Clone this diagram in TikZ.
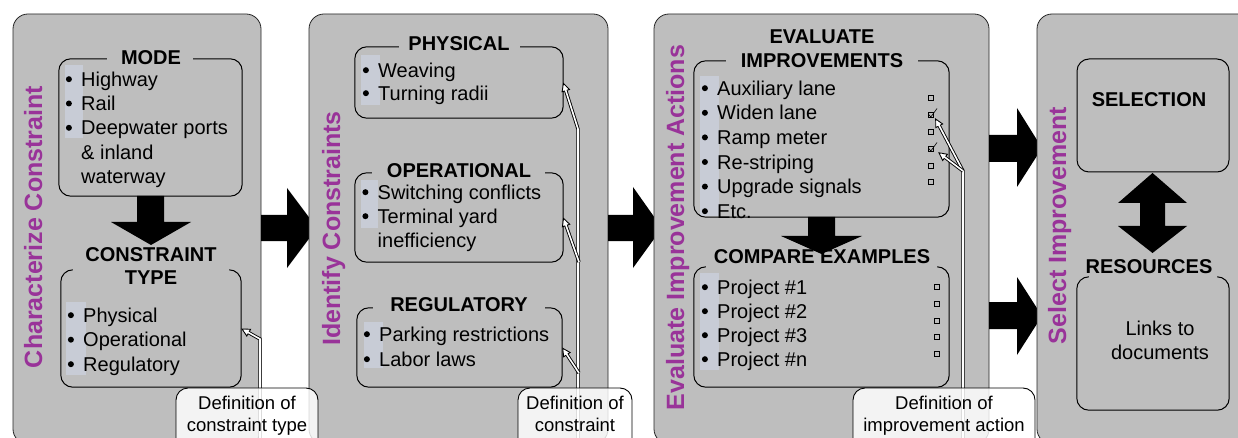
\documentclass[tikz,border=0pt]{standalone}
\usepackage{fontspec}
\setmainfont{Liberation Sans}
\usetikzlibrary{arrows.meta,calc}

\definecolor{panelgray}{RGB}{190,190,190}
\definecolor{titlepurple}{RGB}{153,51,153}
\definecolor{stripblue}{RGB}{200,204,214}

% bullet dot and hanging indent for list lines
\newcommand\bitem{\makebox[14.5pt][l]{\hspace*{-0.8pt}\tikz[baseline=0pt]\fill (0pt,7.2pt) circle[radius=3pt];}}
\newcommand\bcont{\hspace*{14.5pt}}

% hollow callout arrow: #1 path up to the last bend, #2 last bend, #3 tip
\newcommand\hollowarrow[3]{%
  \draw[hstem] #1 -- #3;
  \draw[htip] ($#3!9pt!#2$) -- #3;
  \draw[hface] #1 -- #3;}

% box outline whose top edge is open between the two offsets
\newcommand\gapframe[3]{%
  \draw[boxline] ([xshift=#2]#1.north west) -- (#1.north west) -- (#1.south west)
    -- (#1.south east) -- (#1.north east) -- ([xshift=-#3]#1.north east);}

\begin{document}
\begin{tikzpicture}[x=1pt,y=-1pt,
  panel/.style={rectangle, draw=black!85, line width=0.8pt, fill=panelgray,
    rounded corners=15pt, inner sep=0pt},
  vtitle/.style={rotate=90, font=\bfseries\fontsize{25}{30}\selectfont,
    text=titlepurple, text height=18pt, text depth=5pt, inner sep=0pt},
  frame/.style={rectangle, inner sep=0pt},
  boxline/.style={draw=black, line width=1pt, rounded corners=12pt},
  btitle/.style={font=\bfseries\fontsize{20}{24}\selectfont, inner sep=0pt, align=center},
  blist/.style={font=\fontsize{20}{#1}\selectfont, inner sep=0pt, align=left, anchor=north west},
  blist/.default=24.3,
  plain/.style={font=\fontsize{20}{24}\selectfont, inner sep=0pt, align=center, anchor=north},
  strip/.style={fill=stripblue, draw=none},
  blockarrow/.style={fill=black, draw=none},
  chk/.style={draw=black, line width=0.9pt, rectangle, minimum size=5.5pt, inner sep=0pt},
  tick/.style={draw=black, line width=0.6pt},
  callout/.style={rectangle, draw=black, line width=0.9pt, fill=white, fill opacity=0.82,
    rounded corners=12pt, inner sep=0pt},
  calltext/.style={font=\fontsize{18.5}{22}\selectfont, inner sep=0pt, align=center, anchor=north},
  hstem/.style={draw=black, line width=3.4pt, shorten >=6pt},
  hface/.style={draw=white, line width=1.6pt, shorten >=3.5pt},
  htip/.style={draw=black, line width=0.9pt, -{Triangle[length=9pt,width=9pt,fill=white]}},
]
\useasboundingbox (0,0) rectangle (1238,438);
\clip (0,0) rectangle (1238,438);

%% ---------- Characterize Constraint ----------
\node[panel, minimum width=248pt, minimum height=430pt] (p1) at (137,229) {};
\node[vtitle] (t1) at (35.5,227) {Characterize Constraint};

\fill[strip] (65,65) rectangle (83,138);
\fill[strip] (66,302) rectangle (86,375);

\node[frame, minimum width=183pt, minimum height=137pt] (mode) at (150.5,127.5) {};
\node[blist] (modelist) at (66.5,71.7)
  {\bitem Highway\\ \bitem Rail\\ \bitem Deepwater ports\\ \bcont\& inland\\ \bcont waterway};
\gapframe{mode}{48pt}{49pt}
\node[btitle] (modet) at (151,58) {MODE};

\fill[blockarrow] (137,196) -- (164,196) -- (164,222) -- (191,222) -- (151,245)
  -- (111,222) -- (137,222) -- cycle;

\node[frame, minimum width=180pt, minimum height=117pt] (ctype) at (151,328.5) {};
\node[blist=24.5] (ctypelist) at (68.5,307.7)
  {\bitem Physical\\ \bitem Operational\\ \bitem Regulatory};
\gapframe{ctype}{12pt}{12pt}
\node[btitle, font=\bfseries\fontsize{20}{23}\selectfont] (ctypet) at (151,266.5) {CONSTRAINT\\TYPE};

\fill[blockarrow] (261,215) -- (287,215) -- (287,188) -- (317,228) -- (287,268)
  -- (287,241) -- (261,241) -- cycle;

%% ---------- Identify Constraints ----------
\node[panel, minimum width=299pt, minimum height=430pt] (p2) at (458.5,229) {};
\node[vtitle] (t2) at (333.5,228.5) {Identify Constraints};

\fill[strip] (361,55) rectangle (380,105);
\fill[strip] (361,180) rectangle (378,228);
\fill[strip] (364,322) rectangle (383,368);

\node[frame, minimum width=208pt, minimum height=71pt] (phys) at (459,82.5) {};
\node[blist=23] (physlist) at (363.5,62.7) {\bitem Weaving\\ \bitem Turning radii};
\gapframe{phys}{44pt}{43pt}
\node[btitle] (physt) at (459,44) {PHYSICAL};

\node[frame, minimum width=208pt, minimum height=89pt] (oper) at (459,217.5) {};
\node[blist=24] (operlist) at (363,184.7)
  {\bitem Switching conflicts\\ \bitem Terminal yard\\ \bcont inefficiency};
\gapframe{oper}{17pt}{18pt}
\node[btitle] (opert) at (459,171) {OPERATIONAL};

\node[frame, minimum width=205pt, minimum height=79pt] (regu) at (459.5,347.5) {};
\node[blist=25] (regulist) at (364.5,326.7) {\bitem Parking restrictions\\ \bitem Labor laws};
\gapframe{regu}{16pt}{17pt}
\node[btitle] (regut) at (459,305) {REGULATORY};

\fill[blockarrow] (608,215) -- (633,215) -- (633,187) -- (662,228) -- (633,268)
  -- (633,241) -- (608,241) -- cycle;

%% ---------- Evaluate Improvement Actions ----------
\node[panel, minimum width=335pt, minimum height=430pt] (p3) at (821.5,229) {};
\node[vtitle] (t3) at (677.5,227.5) {Evaluate Improvement Actions};

\fill[strip] (700,76) rectangle (719,216);
\fill[strip] (700,273) rectangle (719,370);

\node[frame, minimum width=255pt, minimum height=156pt] (evalb) at (821.5,139) {};
\node[blist=24.6] (evallist) at (702.5,80.7)
  {\bitem Auxiliary lane\\ \bitem Widen lane\\ \bitem Ramp meter\\ \bitem Re-striping\\
   \bitem Upgrade signals\\ \bitem Etc.};
\gapframe{evalb}{32pt}{31pt}
\node[btitle] (evalt) at (822,49) {EVALUATE\\IMPROVEMENTS};

\node[chk] (e1) at (931,98) {};
\node[chk] (e2) at (931,115) {};
\node[chk] (e3) at (931,132) {};
\node[chk] (e4) at (931,149) {};
\node[chk] (e5) at (931,166) {};
\node[chk] (e6) at (931,182) {};
\draw[tick] (928.8,114.5) -- (930.8,117) -- (937,108.5);
\draw[tick] (928.8,148.5) -- (930.8,151) -- (937,142.5);

\fill[blockarrow] (808,217) -- (835,217) -- (835,236) -- (862,236) -- (821.5,254)
  -- (781,236) -- (808,236) -- cycle;

\node[frame, minimum width=255pt, minimum height=120pt] (comp) at (821.5,327) {};
\node[blist=24] (complist) at (702.5,279.7)
  {\bitem Project \#1\\ \bitem Project \#2\\ \bitem Project \#3\\ \bitem Project \#n};
\gapframe{comp}{12pt}{12pt}
\node[btitle] (compt) at (822,257) {COMPARE EXAMPLES};

\node[chk] (k1) at (937,287) {};
\node[chk] (k2) at (937,304) {};
\node[chk] (k3) at (937,321) {};
\node[chk] (k4) at (937,337) {};
\node[chk] (k5) at (937,354) {};

\fill[blockarrow] (989,135) -- (1017,135) -- (1017,108) -- (1042,148) -- (1017,187)
  -- (1017,162) -- (989,162) -- cycle;
\fill[blockarrow] (989,302) -- (1017,302) -- (1017,277) -- (1042,316) -- (1017,355)
  -- (1017,329) -- (989,329) -- cycle;

%% ---------- Select Improvement ----------
\node[panel, minimum width=223pt, minimum height=430pt] (p4) at (1148.5,229) {};
\node[vtitle] (t4) at (1059.5,225.5) {Select Improvement};

\node[frame, draw=black, line width=1pt, rounded corners=12pt,
  minimum width=152pt, minimum height=113pt] (sel) at (1153,115.5) {};
\node[btitle] (selt) at (1149,100) {SELECTION};

\fill[blockarrow] (1152.5,173) -- (1187,203) -- (1165,203) -- (1165,226) -- (1187,226)
  -- (1152.5,253) -- (1118,226) -- (1140,226) -- (1140,203) -- (1118,203) -- cycle;

\node[frame, minimum width=152pt, minimum height=133pt] (res) at (1153,343.5) {};
\gapframe{res}{12pt}{12pt}
\node[btitle] (rest) at (1149,267) {RESOURCES};
\node[plain] (links) at (1160,320.7) {Links to\\documents};

%% ---------- callout arrows ----------
\coordinate (s1) at (260,445);
\coordinate (b1) at (260,339);
\hollowarrow{(s1) -- (b1)}{(b1)}{(ctype.east)}

\coordinate (s2) at (578,445);
\coordinate (b2) at (578,129);
\coordinate (s2a) at (579,262);
\coordinate (s2b) at (579,373);
\hollowarrow{(s2) -- (b2)}{(b2)}{(phys.east)}
\hollowarrow{(s2a)}{(s2a)}{(oper.east)}
\hollowarrow{(s2b)}{(s2b)}{(regu.east)}

\coordinate (s3) at (963,445);
\coordinate (b3) at (963,171);
\hollowarrow{(s3) -- (b3)}{(b3)}{([xshift=1pt]e2.south east)}
\hollowarrow{(b3)}{(b3)}{([xshift=4pt]e4.south east)}

%% ---------- callouts ----------
\node[callout, minimum width=142pt, minimum height=64pt] (c1) at (247,420) {};
\node[calltext] (c1t) at (247,396) {Definition of\\constraint type};
\node[callout, minimum width=114pt, minimum height=64pt] (c2) at (575,420) {};
\node[calltext] (c2t) at (575,396) {Definition of\\constraint};
\node[callout, minimum width=182pt, minimum height=64pt] (c3) at (944,420) {};
\node[calltext] (c3t) at (944,396) {Definition of\\improvement action};
\end{tikzpicture}
\end{document}
